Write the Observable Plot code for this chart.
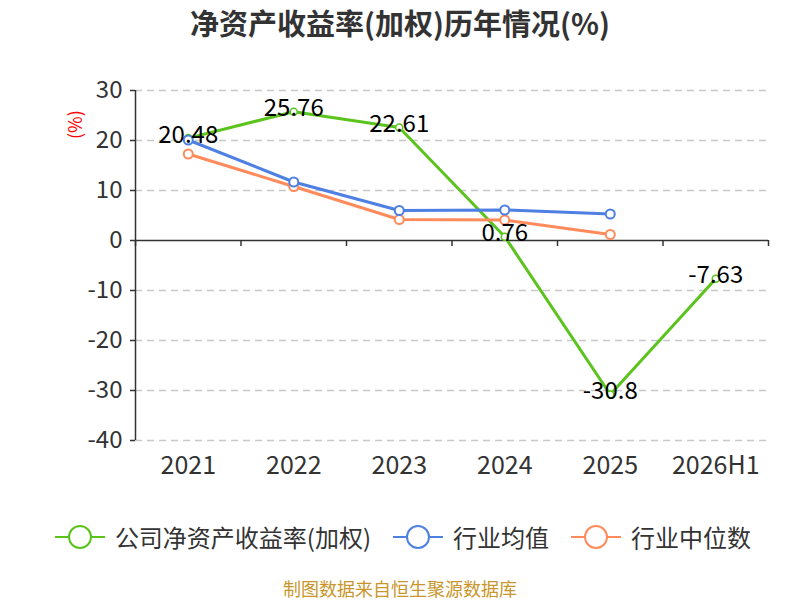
<!DOCTYPE html>
<html>
<head>
<meta charset="utf-8">
<script src="https://cdn.jsdelivr.net/npm/d3@7"></script>
<script src="https://cdn.jsdelivr.net/npm/@observablehq/plot@0.6"></script>
<style>
  html, body { margin: 0; padding: 0; background: #fff; }
  body { width: 800px; height: 600px; position: relative; overflow: hidden; font-family: "Noto Sans CJK SC", "Noto Sans", sans-serif; }
  #title { position: absolute; top: 2px; left: 0; width: 800px; text-align: center; font-size: 29px; line-height: 40px; font-weight: bold; color: #333; }
  #chart { position: absolute; top: 50px; left: 0; }
  #unit { position: absolute; left: 61px; top: 113px; width: 26px; height: 26px; color: #f00; font-size: 18px; transform: rotate(-90deg); text-align: center; line-height: 26px; }
  #legend { position: absolute; top: 519px; left: 0; width: 806px; display: flex; justify-content: center; align-items: center; font-size: 24px; color: #333; }
  .item { display: flex; align-items: center; margin: 0 11px; }
  .item svg { margin-right: 10px; }
  #caption { position: absolute; top: 577px; left: 0; width: 800px; text-align: center; font-size: 18px; line-height: 22px; color: #c8962b; }
</style>
</head>
<body>
<div id="title">净资产收益率(加权)历年情况(%)</div>
<div id="chart"></div>
<div id="unit">(%)</div>
<div id="legend"></div>
<div id="caption">制图数据来自恒生聚源数据库</div>
<script>
const categories = ["2021", "2022", "2023", "2024", "2025", "2026H1"];
const companyROE = [20.48, 25.76, 22.61, 0.76, -30.8, -7.63];
const companyLabels = ["20.48", "25.76", "22.61", "0.76", "-30.8", "-7.63"];
const industryAvg = [20.1, 11.7, 6.0, 6.1, 5.3];
const industryMedian = [17.3, 10.8, 4.2, 4.1, 1.2];
const yTicks = [-40, -30, -20, -10, 0, 10, 20, 30];
const seriesNames = ["公司净资产收益率(加权)", "行业均值", "行业中位数"];
const colors = ["#5ac41d", "#4e7fe3", "#ff8b5c"];

const company = companyROE.map((v, i) => ({i, v, label: companyLabels[i]}));
const avg = industryAvg.map((v, i) => ({i, v}));
const med = industryMedian.map((v, i) => ({i, v}));
const idx = categories.map((_, i) => i);
const boundaries = [-0.5, ...categories.map((_, i) => i + 0.5)];

const chart = Plot.plot({
  width: 800,
  height: 440,
  marginTop: 40,
  marginBottom: 50,
  marginLeft: 135,
  marginRight: 32,
  style: { fontFamily: '"Noto Sans CJK SC", "Noto Sans", sans-serif', background: "#fff" },
  x: { type: "linear", domain: [-0.5, categories.length - 0.5] },
  y: { domain: [-40, 30] },
  marks: [
    Plot.gridY(yTicks.filter(d => d !== 0), { stroke: "#c8c8c8", strokeOpacity: 1, strokeWidth: 1.5, strokeDasharray: "7,5" }),
    Plot.ruleY([0], { stroke: "#333", strokeWidth: 1.5 }),
    Plot.ruleX([-0.5], { y1: -40, y2: 30, stroke: "#333", strokeWidth: 1.5 }),
    Plot.ruleX(boundaries, { x: d => d, y1: 0, y2: 0, insetBottom: -6, stroke: "#333", strokeWidth: 1.5 }),
    Plot.axisY(yTicks, { tickSize: 5, tickPadding: 8, fontSize: 24, color: "#333", strokeWidth: 1.5, label: null, tickFormat: d => String(d) }),
    Plot.axisX(idx, { tickSize: 0, tickPadding: 16, fontSize: 25, color: "#333", tickFormat: i => categories[i], label: null }),
    Plot.line(company, { x: "i", y: "v", stroke: colors[0], strokeWidth: 3 }),
    Plot.dot(company, { x: "i", y: "v", r: 3.5, fill: "#fff", stroke: colors[0], strokeWidth: 1.5 }),
    Plot.line(med, { x: "i", y: "v", stroke: colors[2], strokeWidth: 3 }),
    Plot.dot(med, { x: "i", y: "v", r: 4.5, fill: "#fff", stroke: colors[2], strokeWidth: 2 }),
    Plot.line(avg, { x: "i", y: "v", stroke: colors[1], strokeWidth: 3 }),
    Plot.dot(avg, { x: "i", y: "v", r: 4.5, fill: "#fff", stroke: colors[1], strokeWidth: 2 }),
    Plot.text(company, { x: "i", y: "v", text: "label", fontSize: 24, fill: "#000", dy: -3 })
  ]
});
document.getElementById("chart").appendChild(chart);

const legend = document.getElementById("legend");
seriesNames.forEach((name, k) => {
  const item = document.createElement("div");
  item.className = "item";
  item.innerHTML = `<svg width="50" height="26"><line x1="0" x2="50" y1="13" y2="13" stroke="${colors[k]}" stroke-width="2"/><circle cx="25" cy="13" r="11" fill="#fff" stroke="${colors[k]}" stroke-width="2"/></svg><span>${name}</span>`;
  legend.appendChild(item);
});
</script>
</body>
</html>
